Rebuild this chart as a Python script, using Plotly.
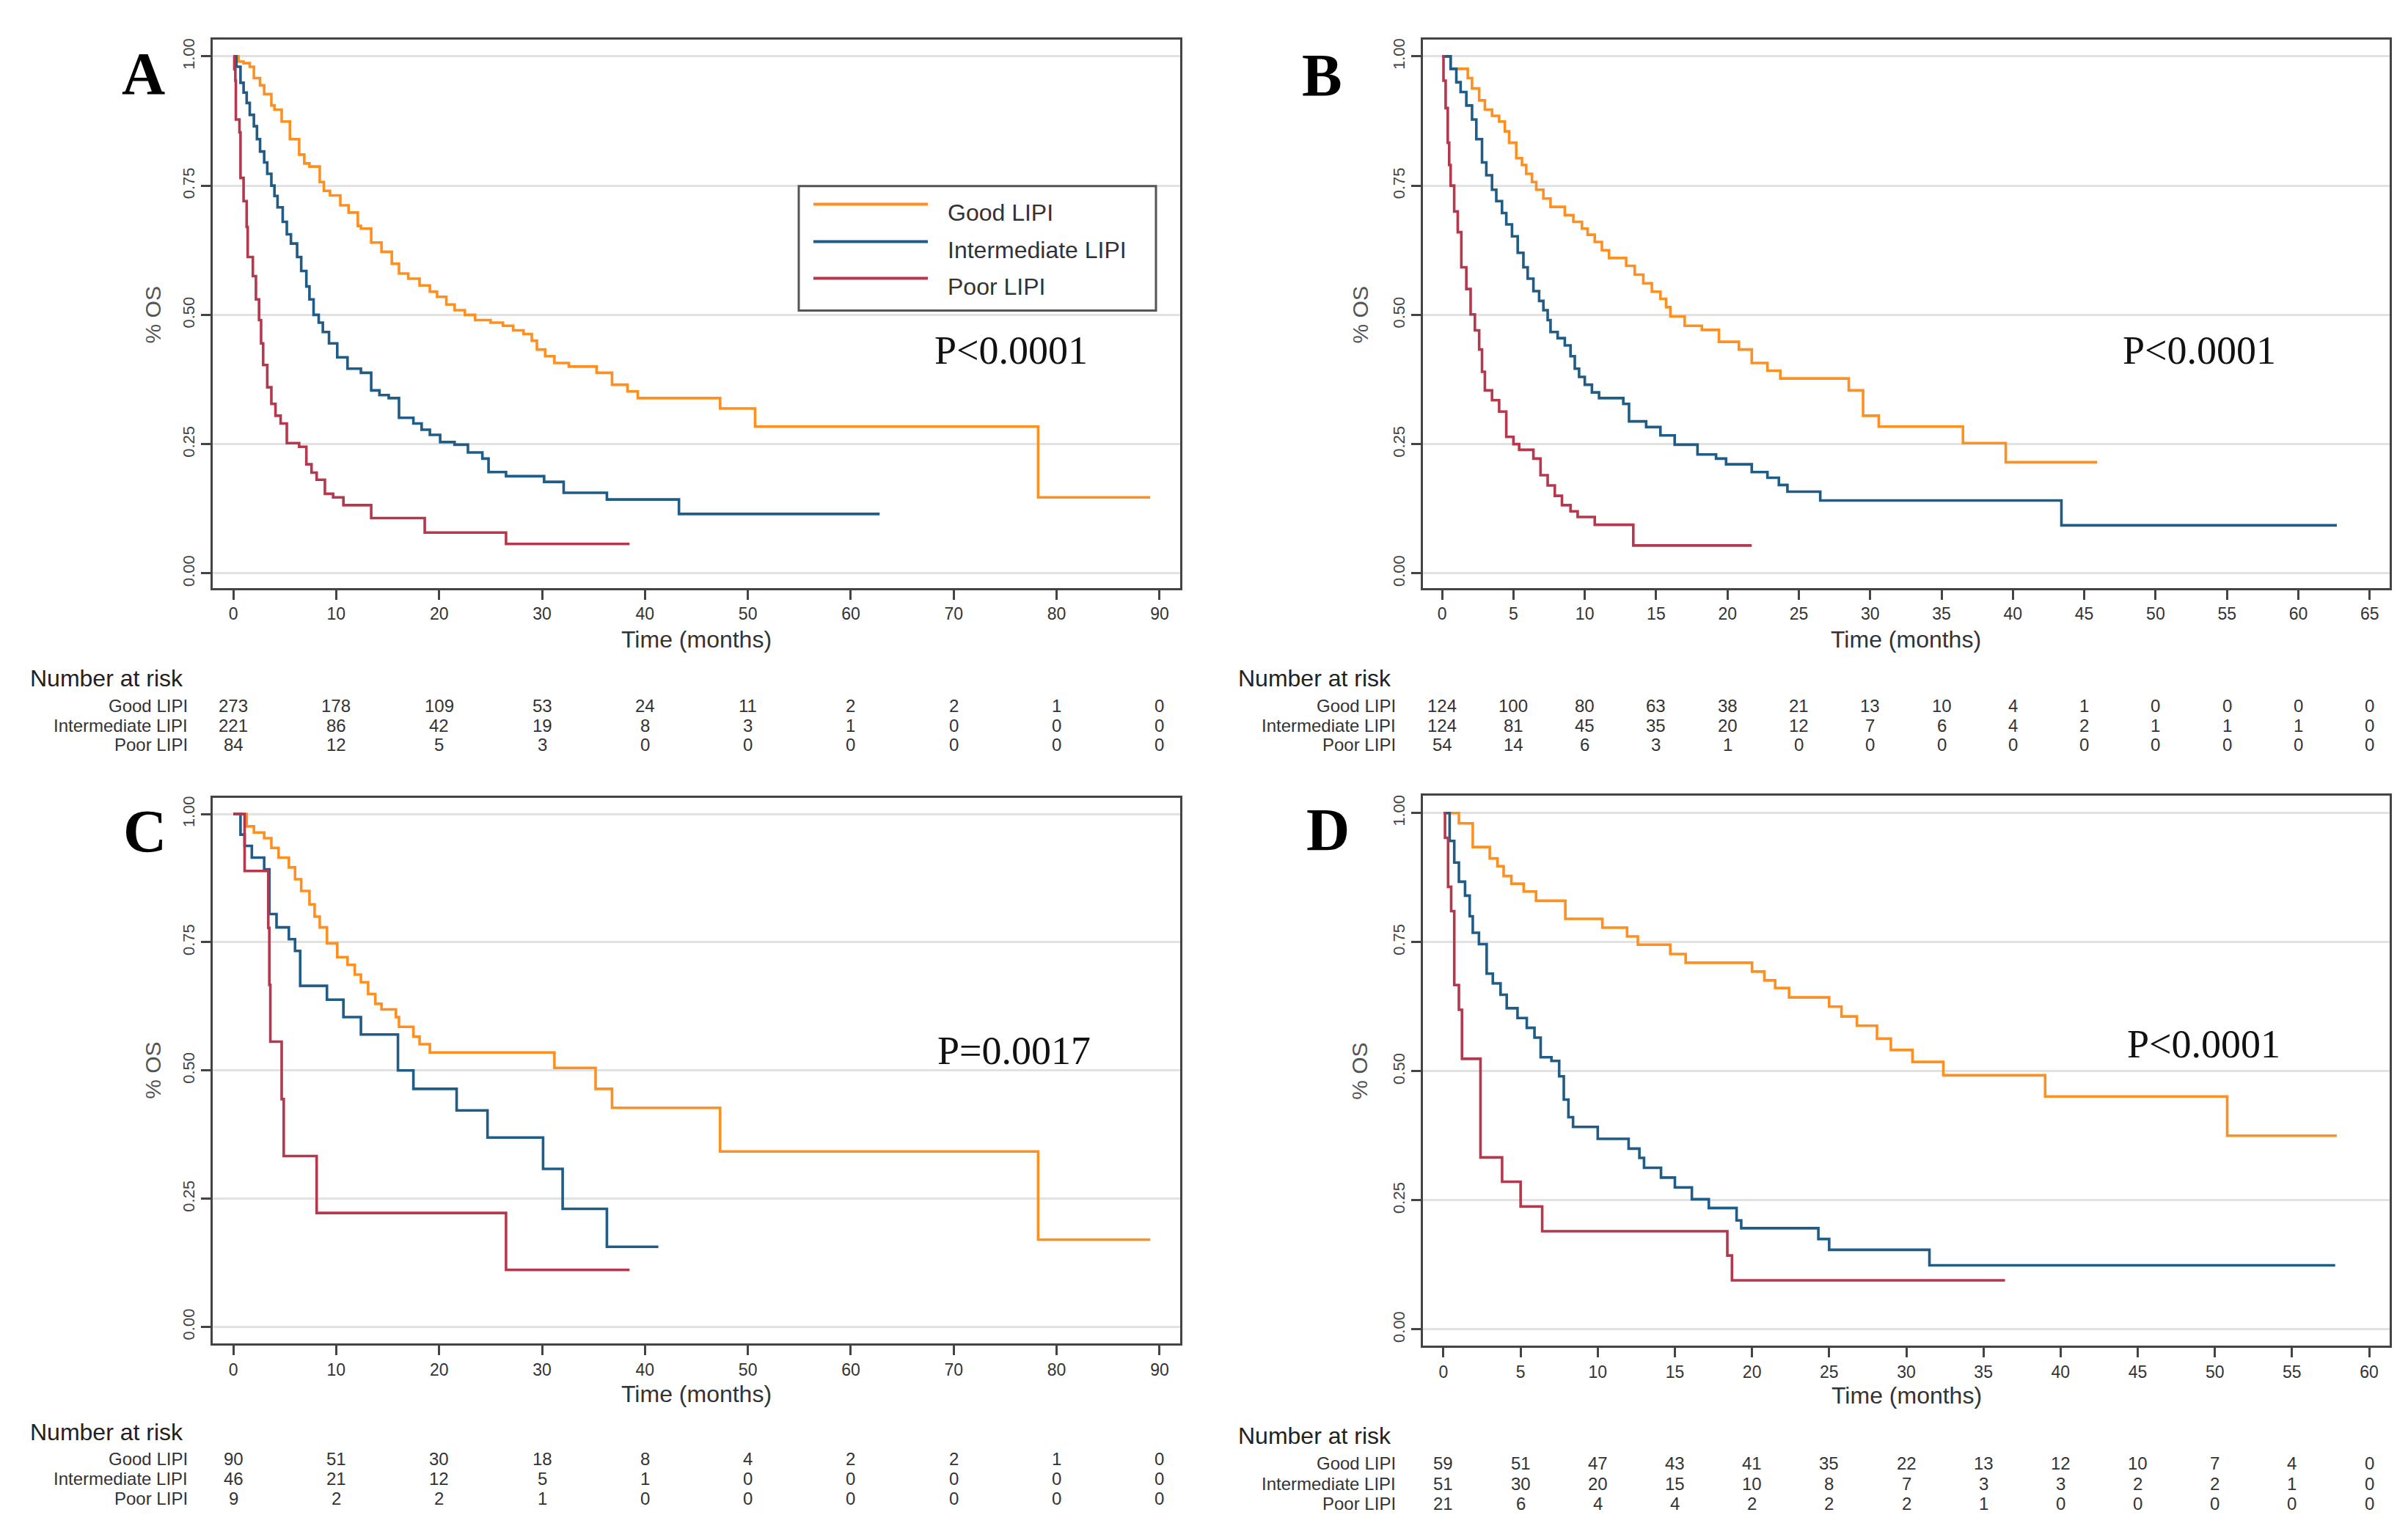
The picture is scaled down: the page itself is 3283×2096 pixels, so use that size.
import plotly.graph_objects as go

# ---------------- data ----------------
group_names = ["Good LIPI", "Intermediate LIPI", "Poor LIPI"]
p_values = ["P<0.0001", "P<0.0001", "P=0.0017", "P<0.0001"]
panel_letters = ["A", "B", "C", "D"]

# Panel A
A_good_t = [0, 0.5, 1.0, 1.6, 2.0, 2.6, 3.0, 3.7, 4.0, 4.7, 5.5, 6.4, 6.9, 7.4, 8.4, 8.8, 9.4, 10.4, 11.2, 12.1,
            12.4, 13.4, 14.4, 15.4, 16.1, 17.0, 18.1, 19.1, 19.8, 20.7, 21.5, 22.5, 23.5, 25.0, 26.2, 27.2, 28.2,
            29.0, 29.5, 30.3, 31.2, 32.6, 35.3, 36.8, 38.3, 39.3, 47.3, 50.7, 78.2, 89.1]
A_good_s = [1, 0.99, 0.987, 0.98, 0.958, 0.944, 0.927, 0.905, 0.897, 0.874, 0.84, 0.81, 0.793, 0.787, 0.757, 0.74,
            0.731, 0.712, 0.698, 0.672, 0.667, 0.64, 0.622, 0.599, 0.58, 0.57, 0.557, 0.545, 0.535, 0.52, 0.509,
            0.5, 0.49, 0.485, 0.479, 0.47, 0.463, 0.45, 0.433, 0.42, 0.407, 0.40, 0.388, 0.365, 0.352, 0.339,
            0.319, 0.284, 0.147, 0.147]
A_int_t = [0, 0.3, 0.7, 1.0, 1.3, 1.6, 2.0, 2.3, 2.6, 3.0, 3.3, 3.7, 4.0, 4.3, 4.8, 5.2, 5.6, 6.2, 6.6, 7.1, 7.4,
           7.8, 8.3, 8.7, 9.3, 10.1, 11.1, 12.4, 13.4, 14.2, 15.1, 16.1, 17.5, 18.3, 19.1, 20.1, 21.5, 22.8,
           24.2, 24.8, 26.5, 30.2, 32.1, 36.3, 43.3, 62.8]
A_int_s = [1, 0.98, 0.949, 0.93, 0.91, 0.887, 0.865, 0.84, 0.816, 0.795, 0.773, 0.75, 0.73, 0.708, 0.68, 0.656,
           0.638, 0.612, 0.585, 0.555, 0.53, 0.5, 0.485, 0.467, 0.445, 0.418, 0.396, 0.388, 0.354, 0.345, 0.339,
           0.301, 0.29, 0.278, 0.268, 0.254, 0.249, 0.234, 0.222, 0.196, 0.188, 0.177, 0.156, 0.143, 0.115, 0.115]
A_poor_t = [0, 0.1, 0.2, 0.25, 0.6, 0.7, 1.0, 1.3, 1.4, 1.9, 2.2, 2.5, 2.7, 2.9, 3.3, 3.7, 4.1, 4.6, 5.2, 6.4, 7.1,
            7.6, 8.1, 8.9, 9.7, 10.7, 13.4, 18.6, 26.5, 38.5]
A_poor_s = [1, 0.975, 0.953, 0.878, 0.853, 0.765, 0.72, 0.67, 0.612, 0.575, 0.53, 0.49, 0.445, 0.403, 0.36, 0.328,
            0.305, 0.29, 0.252, 0.245, 0.211, 0.195, 0.181, 0.154, 0.147, 0.132, 0.107, 0.079, 0.057, 0.057]

# Panel B
B_good_t = [0, 0.6, 1.8, 2.1, 2.6, 3.0, 3.5, 4.0, 4.4, 4.7, 5.2, 5.6, 5.9, 6.3, 6.6, 7.1, 7.6, 8.6, 9.2, 9.8, 10.2,
            10.7, 11.2, 11.7, 12.9, 13.5, 14.1, 14.7, 15.3, 15.7, 16.0, 17.0, 18.2, 19.4, 20.8, 21.7, 22.8, 23.7,
            28.5, 29.5, 30.6, 36.5, 39.5, 45.9]
B_good_s = [1, 0.976, 0.958, 0.938, 0.915, 0.897, 0.885, 0.874, 0.855, 0.833, 0.803, 0.79, 0.773, 0.757, 0.742,
            0.725, 0.709, 0.693, 0.68, 0.667, 0.655, 0.641, 0.625, 0.61, 0.595, 0.578, 0.561, 0.545, 0.531, 0.515,
            0.497, 0.479, 0.471, 0.448, 0.433, 0.407, 0.392, 0.377, 0.354, 0.305, 0.284, 0.252, 0.215, 0.215]
B_int_t = [0, 0.6, 1.0, 1.3, 1.7, 2.1, 2.4, 2.8, 3.1, 3.5, 3.8, 4.2, 4.5, 4.9, 5.3, 5.7, 6.0, 6.4, 6.8, 7.1, 7.4,
           7.6, 8.1, 8.6, 9.0, 9.3, 9.6, 10.0, 10.5, 11.0, 12.7, 13.1, 14.3, 15.3, 16.3, 17.9, 19.2, 19.9, 21.7,
           22.8, 23.6, 24.2, 26.5, 43.4, 62.7]
B_int_s = [1, 0.976, 0.95, 0.931, 0.905, 0.878, 0.84, 0.795, 0.77, 0.742, 0.72, 0.697, 0.675, 0.652, 0.62, 0.592,
           0.57, 0.546, 0.527, 0.509, 0.49, 0.467, 0.455, 0.441, 0.42, 0.396, 0.38, 0.365, 0.35, 0.339, 0.328,
           0.294, 0.283, 0.267, 0.249, 0.23, 0.222, 0.211, 0.196, 0.185, 0.171, 0.158, 0.141, 0.093, 0.093]
B_poor_t = [0, 0.1, 0.25, 0.4, 0.5, 0.6, 0.85, 1.1, 1.35, 1.7, 2.0, 2.3, 2.6, 2.8, 3.0, 3.5, 4.0, 4.5, 5.0, 5.4,
            6.4, 6.9, 7.4, 7.9, 8.4, 9.0, 9.5, 10.7, 13.4, 21.7]
B_poor_s = [1, 0.953, 0.9, 0.833, 0.79, 0.75, 0.7, 0.66, 0.592, 0.55, 0.501, 0.47, 0.433, 0.39, 0.354, 0.335,
            0.313, 0.264, 0.25, 0.239, 0.222, 0.19, 0.17, 0.15, 0.132, 0.12, 0.109, 0.094, 0.054, 0.054]

# Panel C
C_good_t = [0, 1.3, 2.0, 3.0, 3.7, 4.4, 5.4, 6.0, 6.6, 7.4, 7.9, 8.4, 9.1, 10.1, 11.1, 11.8, 12.4, 13.1, 13.8, 14.4,
            15.8, 16.1, 17.5, 18.1, 19.1, 31.2, 35.2, 36.8, 47.3, 78.2, 89.1]
C_good_s = [1, 0.976, 0.964, 0.953, 0.934, 0.915, 0.896, 0.873, 0.85, 0.824, 0.8, 0.779, 0.748, 0.721, 0.706,
            0.687, 0.672, 0.649, 0.63, 0.619, 0.604, 0.585, 0.566, 0.551, 0.535, 0.505, 0.464, 0.427, 0.342,
            0.17, 0.17]
C_int_t = [0, 0.7, 1.1, 1.8, 3.0, 3.5, 4.2, 5.4, 6.0, 6.5, 9.1, 10.7, 12.4, 16.0, 17.5, 21.7, 24.7, 30.1, 32.0,
           36.3, 41.3]
C_int_s = [1, 0.96, 0.938, 0.915, 0.892, 0.805, 0.779, 0.756, 0.733, 0.665, 0.638, 0.604, 0.57, 0.5, 0.464, 0.422,
           0.369, 0.308, 0.23, 0.156, 0.156]
C_poor_t = [0, 1.1, 3.4, 3.5, 3.6, 4.7, 4.9, 8.1, 26.5, 38.5]
C_poor_s = [1, 0.889, 0.778, 0.667, 0.556, 0.444, 0.333, 0.222, 0.111, 0.111]

# Panel D
D_good_t = [0, 1.0, 1.9, 3.0, 3.5, 3.9, 4.4, 5.2, 6.0, 7.9, 10.3, 11.9, 12.6, 14.7, 15.7, 20.0, 20.8, 21.5, 22.4,
            25.0, 25.8, 26.8, 28.1, 29.0, 30.4, 32.4, 39.0, 50.8, 57.9]
D_good_s = [1, 0.98, 0.934, 0.912, 0.897, 0.878, 0.863, 0.848, 0.83, 0.795, 0.778, 0.761, 0.745, 0.727, 0.71,
            0.693, 0.676, 0.661, 0.643, 0.625, 0.606, 0.588, 0.563, 0.541, 0.518, 0.492, 0.451, 0.375, 0.375]
D_int_t = [0, 0.4, 0.7, 1.0, 1.4, 1.7, 1.9, 2.3, 2.8, 3.2, 3.7, 4.1, 4.8, 5.4, 5.9, 6.3, 7.0, 7.5, 7.8, 8.1, 8.4,
           10.0, 12.0, 12.7, 13.0, 14.1, 15.0, 16.1, 17.2, 19.0, 19.3, 24.3, 25.0, 31.5, 57.8]
D_int_s = [1, 0.946, 0.904, 0.867, 0.84, 0.8, 0.768, 0.746, 0.689, 0.67, 0.648, 0.622, 0.603, 0.584, 0.565, 0.527,
           0.52, 0.49, 0.445, 0.411, 0.392, 0.369, 0.35, 0.332, 0.313, 0.294, 0.275, 0.252, 0.235, 0.211, 0.196,
           0.175, 0.154, 0.124, 0.124]
D_poor_t = [0, 0.1, 0.3, 0.5, 0.7, 1.0, 1.2, 2.4, 3.8, 5.0, 6.4, 18.4, 18.7, 36.4]
D_poor_s = [1, 0.952, 0.857, 0.81, 0.667, 0.619, 0.524, 0.333, 0.286, 0.238, 0.19, 0.143, 0.095, 0.095]

# Number at risk tables
A_risk_times = [0, 10, 20, 30, 40, 50, 60, 70, 80, 90]
A_risk_good = [273, 178, 109, 53, 24, 11, 2, 2, 1, 0]
A_risk_int = [221, 86, 42, 19, 8, 3, 1, 0, 0, 0]
A_risk_poor = [84, 12, 5, 3, 0, 0, 0, 0, 0, 0]

B_risk_times = [0, 5, 10, 15, 20, 25, 30, 35, 40, 45, 50, 55, 60, 65]
B_risk_good = [124, 100, 80, 63, 38, 21, 13, 10, 4, 1, 0, 0, 0, 0]
B_risk_int = [124, 81, 45, 35, 20, 12, 7, 6, 4, 2, 1, 1, 1, 0]
B_risk_poor = [54, 14, 6, 3, 1, 0, 0, 0, 0, 0, 0, 0, 0, 0]

C_risk_times = [0, 10, 20, 30, 40, 50, 60, 70, 80, 90]
C_risk_good = [90, 51, 30, 18, 8, 4, 2, 2, 1, 0]
C_risk_int = [46, 21, 12, 5, 1, 0, 0, 0, 0, 0]
C_risk_poor = [9, 2, 2, 1, 0, 0, 0, 0, 0, 0]

D_risk_times = [0, 5, 10, 15, 20, 25, 30, 35, 40, 45, 50, 55, 60]
D_risk_good = [59, 51, 47, 43, 41, 35, 22, 13, 12, 10, 7, 4, 0]
D_risk_int = [51, 30, 20, 15, 10, 8, 7, 3, 3, 2, 2, 1, 0]
D_risk_poor = [21, 6, 4, 4, 2, 2, 2, 1, 0, 0, 0, 0, 0]

y_tick_vals = [0, 0.25, 0.5, 0.75, 1.0]
y_tick_text = ["0.00", "0.25", "0.50", "0.75", "1.00"]

# ---------------- styling / layout ----------------
W, H = 3283, 2096
COLORS = ["#FF901F", "#1F5C87", "#B5384C"]
AX = "#444444"
SANS = "Liberation Sans, Arial, sans-serif"
SERIF = "Liberation Serif, Times New Roman, serif"


def px(x):
    return x / W


def py(y):
    return 1 - y / H


panels = [
    dict(curves=[(A_good_t, A_good_s), (A_int_t, A_int_s), (A_poor_t, A_poor_s)],
         risk_t=A_risk_times, risk=[A_risk_good, A_risk_int, A_risk_poor],
         xdom=[px(282), px(1601)], ydom=[py(792), py(43)], xr=[-2.0, 92.0], yr=[-0.0283, 1.0326],
         dtick=10, xcenter=45,
         letter=(187, 90), pval=(1370, 468), ytitle_x=200, xtitle_y=862,
         nar_x=31, lab_x=250, nar_y=915, rows_y=[953, 980, 1006]),
    dict(curves=[(B_good_t, B_good_s), (B_int_t, B_int_s), (B_poor_t, B_poor_s)],
         risk_t=B_risk_times, risk=[B_risk_good, B_risk_int, B_risk_poor],
         xdom=[px(1932), px(3250)], ydom=[py(792), py(43)], xr=[-1.34, 66.4], yr=[-0.0283, 1.0326],
         dtick=5, xcenter=32.5,
         letter=(1795, 92), pval=(2990, 468), ytitle_x=1846, xtitle_y=862,
         nar_x=1678, lab_x=1897, nar_y=915, rows_y=[953, 980, 1006]),
    dict(curves=[(C_good_t, C_good_s), (C_int_t, C_int_s), (C_poor_t, C_poor_s)],
         risk_t=C_risk_times, risk=[C_risk_good, C_risk_int, C_risk_poor],
         xdom=[px(282), px(1601)], ydom=[py(1824), py(1079)], xr=[-2.0, 92.0], yr=[-0.033, 1.031],
         dtick=10, xcenter=45,
         letter=(189, 1124), pval=(1374, 1424), ytitle_x=201, xtitle_y=1893,
         nar_x=31, lab_x=250, nar_y=1945, rows_y=[1981, 2008, 2035]),
    dict(curves=[(D_good_t, D_good_s), (D_int_t, D_int_s), (D_poor_t, D_poor_s)],
         risk_t=D_risk_times, risk=[D_risk_good, D_risk_int, D_risk_poor],
         xdom=[px(1932), px(3250)], ydom=[py(1827), py(1076)], xr=[-1.33, 61.33], yr=[-0.032, 1.033],
         dtick=5, xcenter=30,
         letter=(1802, 1122), pval=(2996, 1415), ytitle_x=1846, xtitle_y=1895,
         nar_x=1678, lab_x=1897, nar_y=1950, rows_y=[1987, 2015, 2042]),
]

fig = go.Figure()
annotations = []
shapes = []
layout_axes = {}

for i, p in enumerate(panels):
    n = "" if i == 0 else str(i + 1)
    xref, yref = "x" + n, "y" + n
    for (t, s), col, name in zip(p["curves"], COLORS, group_names):
        fig.add_trace(go.Scatter(x=t, y=s, mode="lines", line=dict(color=col, width=3.6, shape="hv"),
                                 name=name, showlegend=False, xaxis=xref, yaxis=yref, hoverinfo="skip"))
    layout_axes["xaxis" + n] = dict(
        domain=p["xdom"], anchor=yref, range=p["xr"], tick0=0, dtick=p["dtick"],
        showgrid=False, zeroline=False, showline=True, mirror=True, linecolor=AX, linewidth=3,
        ticks="outside", ticklen=13, tickwidth=3, tickcolor=AX,
        tickfont=dict(family=SANS, size=23, color="#333333"), fixedrange=True)
    layout_axes["yaxis" + n] = dict(
        domain=p["ydom"], anchor=xref, range=p["yr"], tickvals=y_tick_vals, ticktext=y_tick_text,
        tickangle=-90, showgrid=True, gridcolor="#E2E2E2", gridwidth=3, zeroline=False,
        showline=True, mirror=True, linecolor=AX, linewidth=3,
        ticks="outside", ticklen=13, tickwidth=3, tickcolor=AX,
        tickfont=dict(family=SANS, size=22, color="#444444"), fixedrange=True)

    # panel letter
    lx, ly = p["letter"]
    annotations.append(dict(text="<b>%s</b>" % panel_letters[i], x=px(lx), y=py(ly), xref="paper", yref="paper",
                            showarrow=False, xanchor="center", yanchor="middle",
                            font=dict(family=SERIF, size=82, color="#000000")))
    # p value
    vx, vy = p["pval"]
    annotations.append(dict(text=p_values[i], x=px(vx), y=py(vy), xref="paper", yref="paper",
                            showarrow=False, xanchor="center", yanchor="middle",
                            font=dict(family=SERIF, size=54, color="#111111")))
    # axis titles
    annotations.append(dict(text="Time (months)", x=p["xcenter"], y=py(p["xtitle_y"]), xref=xref, yref="paper",
                            showarrow=False, xanchor="center", yanchor="middle",
                            font=dict(family=SANS, size=32, color="#333333")))
    annotations.append(dict(text="% OS", x=px(p["ytitle_x"]), y=0.5, xref="paper", yref=yref, textangle=-90,
                            showarrow=False, xanchor="center", yanchor="middle",
                            font=dict(family=SANS, size=30, color="#555555")))
    # number at risk table
    annotations.append(dict(text="Number at risk", x=px(p["nar_x"]), y=py(p["nar_y"]), xref="paper",
                            yref="paper", showarrow=False, xanchor="left", yanchor="middle",
                            font=dict(family=SANS, size=32, color="#222222")))
    for name, row, ry in zip(group_names, p["risk"], p["rows_y"]):
        annotations.append(dict(text=name, x=px(p["lab_x"]), y=py(ry), xref="paper", yref="paper",
                                showarrow=False, xanchor="right", yanchor="middle",
                                font=dict(family=SANS, size=24, color="#333333")))
        for tt, v in zip(p["risk_t"], row):
            annotations.append(dict(text=str(v), x=tt, y=py(ry), xref=xref, yref="paper",
                                    showarrow=False, xanchor="center", yanchor="middle",
                                    font=dict(family=SANS, size=24, color="#333333")))

# legend (panel A), drawn as a framed box
shapes.append(dict(type="rect", xref="paper", yref="paper", x0=px(1081), x1=px(1568), y0=py(413), y1=py(243),
                   line=dict(color="#555555", width=3), fillcolor="#FFFFFF", layer="above"))
leg_line_y = [268, 319, 369]
leg_text_y = [279, 330, 381]
for name, col, ly_, ty_ in zip(group_names, COLORS, leg_line_y, leg_text_y):
    shapes.append(dict(type="line", xref="paper", yref="paper", x0=px(1101), x1=px(1257), y0=py(ly_), y1=py(ly_),
                       line=dict(color=col, width=4), layer="above"))
    annotations.append(dict(text=name, x=px(1282), y=py(ty_), xref="paper", yref="paper", showarrow=False,
                            xanchor="left", yanchor="middle", font=dict(family=SANS, size=32, color="#333333")))

fig.update_layout(
    width=W, height=H, autosize=False,
    margin=dict(l=0, r=0, t=0, b=0),
    paper_bgcolor="#FFFFFF", plot_bgcolor="#FFFFFF",
    showlegend=False,
    annotations=annotations, shapes=shapes,
    **layout_axes,
)

fig.write_html("out.html")
